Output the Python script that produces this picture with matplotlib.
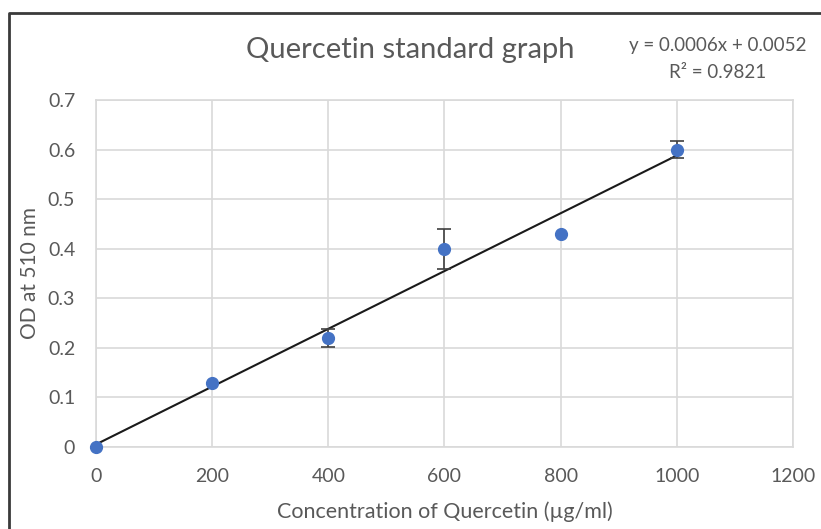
import numpy as np
import matplotlib.pyplot as plt
from matplotlib.lines import Line2D

plt.rcParams['font.family'] = ['Lato', 'DejaVu Sans']

conc = [0, 200, 400, 600, 800, 1000]
od = [0.0, 0.13, 0.22, 0.40, 0.43, 0.60]
err = [0.0, 0.0, 0.018, 0.04, 0.0, 0.018]
xticks = [0, 200, 400, 600, 800, 1000, 1200]
yticks = [0, 0.1, 0.2, 0.3, 0.4, 0.5, 0.6, 0.7]
ytick_labels = ['0', '0.1', '0.2', '0.3', '0.4', '0.5', '0.6', '0.7']

txt = '#595959'

fig = plt.figure(figsize=(8.21, 5.29), dpi=100)
ax = fig.add_axes([0.1169, 0.155, 0.849, 0.656])

# trendline
slope, inter = np.polyfit(conc, od, 1)
xs = np.array([conc[0], conc[-1]])
ax.plot(xs, slope * xs + inter, color='#1a1a1a', lw=1.5, zorder=2)

# error bars only where there is a spread
ex = [c for c, e in zip(conc, err) if e > 0]
ey = [v for v, e in zip(od, err) if e > 0]
ee = [e for e in err if e > 0]
ax.errorbar(ex, ey, yerr=ee, fmt='none', ecolor='#404040', elinewidth=1.2,
            capsize=5, capthick=1.2, zorder=3)
ax.plot(conc, od, 'o', color='#4472C4', markersize=8.5, zorder=4, clip_on=False)

ax.set_xlim(0, 1200)
ax.set_ylim(0, 0.7)
ax.set_xticks(xticks)
ax.set_yticks(yticks)
ax.set_yticklabels(ytick_labels)
ax.grid(True, color='#d9d9d9', lw=1.2)
ax.set_axisbelow(True)
for s in ax.spines.values():
    s.set_color('#d9d9d9')
    s.set_linewidth(1.2)
ax.tick_params(axis='x', length=0, colors=txt, labelsize=14, pad=15)
ax.tick_params(axis='y', length=0, colors=txt, labelsize=14, pad=15)

ax.set_xlabel('Concentration of Quercetin (µg/ml)', color=txt, fontsize=15.5)
ax.set_ylabel('OD at 510 nm', color=txt, fontsize=15)
ax.xaxis.set_label_coords(0.5, -(512 - 447) / 347, transform=ax.transAxes)
ax.yaxis.set_label_coords(-(96 - 30) / 697, 0.5, transform=ax.transAxes)
ax.xaxis.label.set_va('center')
ax.yaxis.label.set_va('center')

fig.text(410 / 821, 1 - 50 / 529, 'Quercetin standard graph', color=txt,
         fontsize=21, ha='center', va='center')
fig.text(718 / 821, 1 - 46 / 529, 'y = 0.0006x + 0.0052', color=txt,
         fontsize=13.5, ha='center', va='center')
fig.text(718 / 821, 1 - 72 / 529, 'R² = 0.9821', color=txt,
         fontsize=13.5, ha='center', va='center')

# outer chart border (cropped: only left and top visible)
fig.add_artist(Line2D([9 / 821, 9 / 821, 1.0], [0.0, 1 - 13 / 529, 1 - 13 / 529],
                      color='#3a3a3a', lw=2, transform=fig.transFigure))

fig.savefig('out.png', dpi=100)
